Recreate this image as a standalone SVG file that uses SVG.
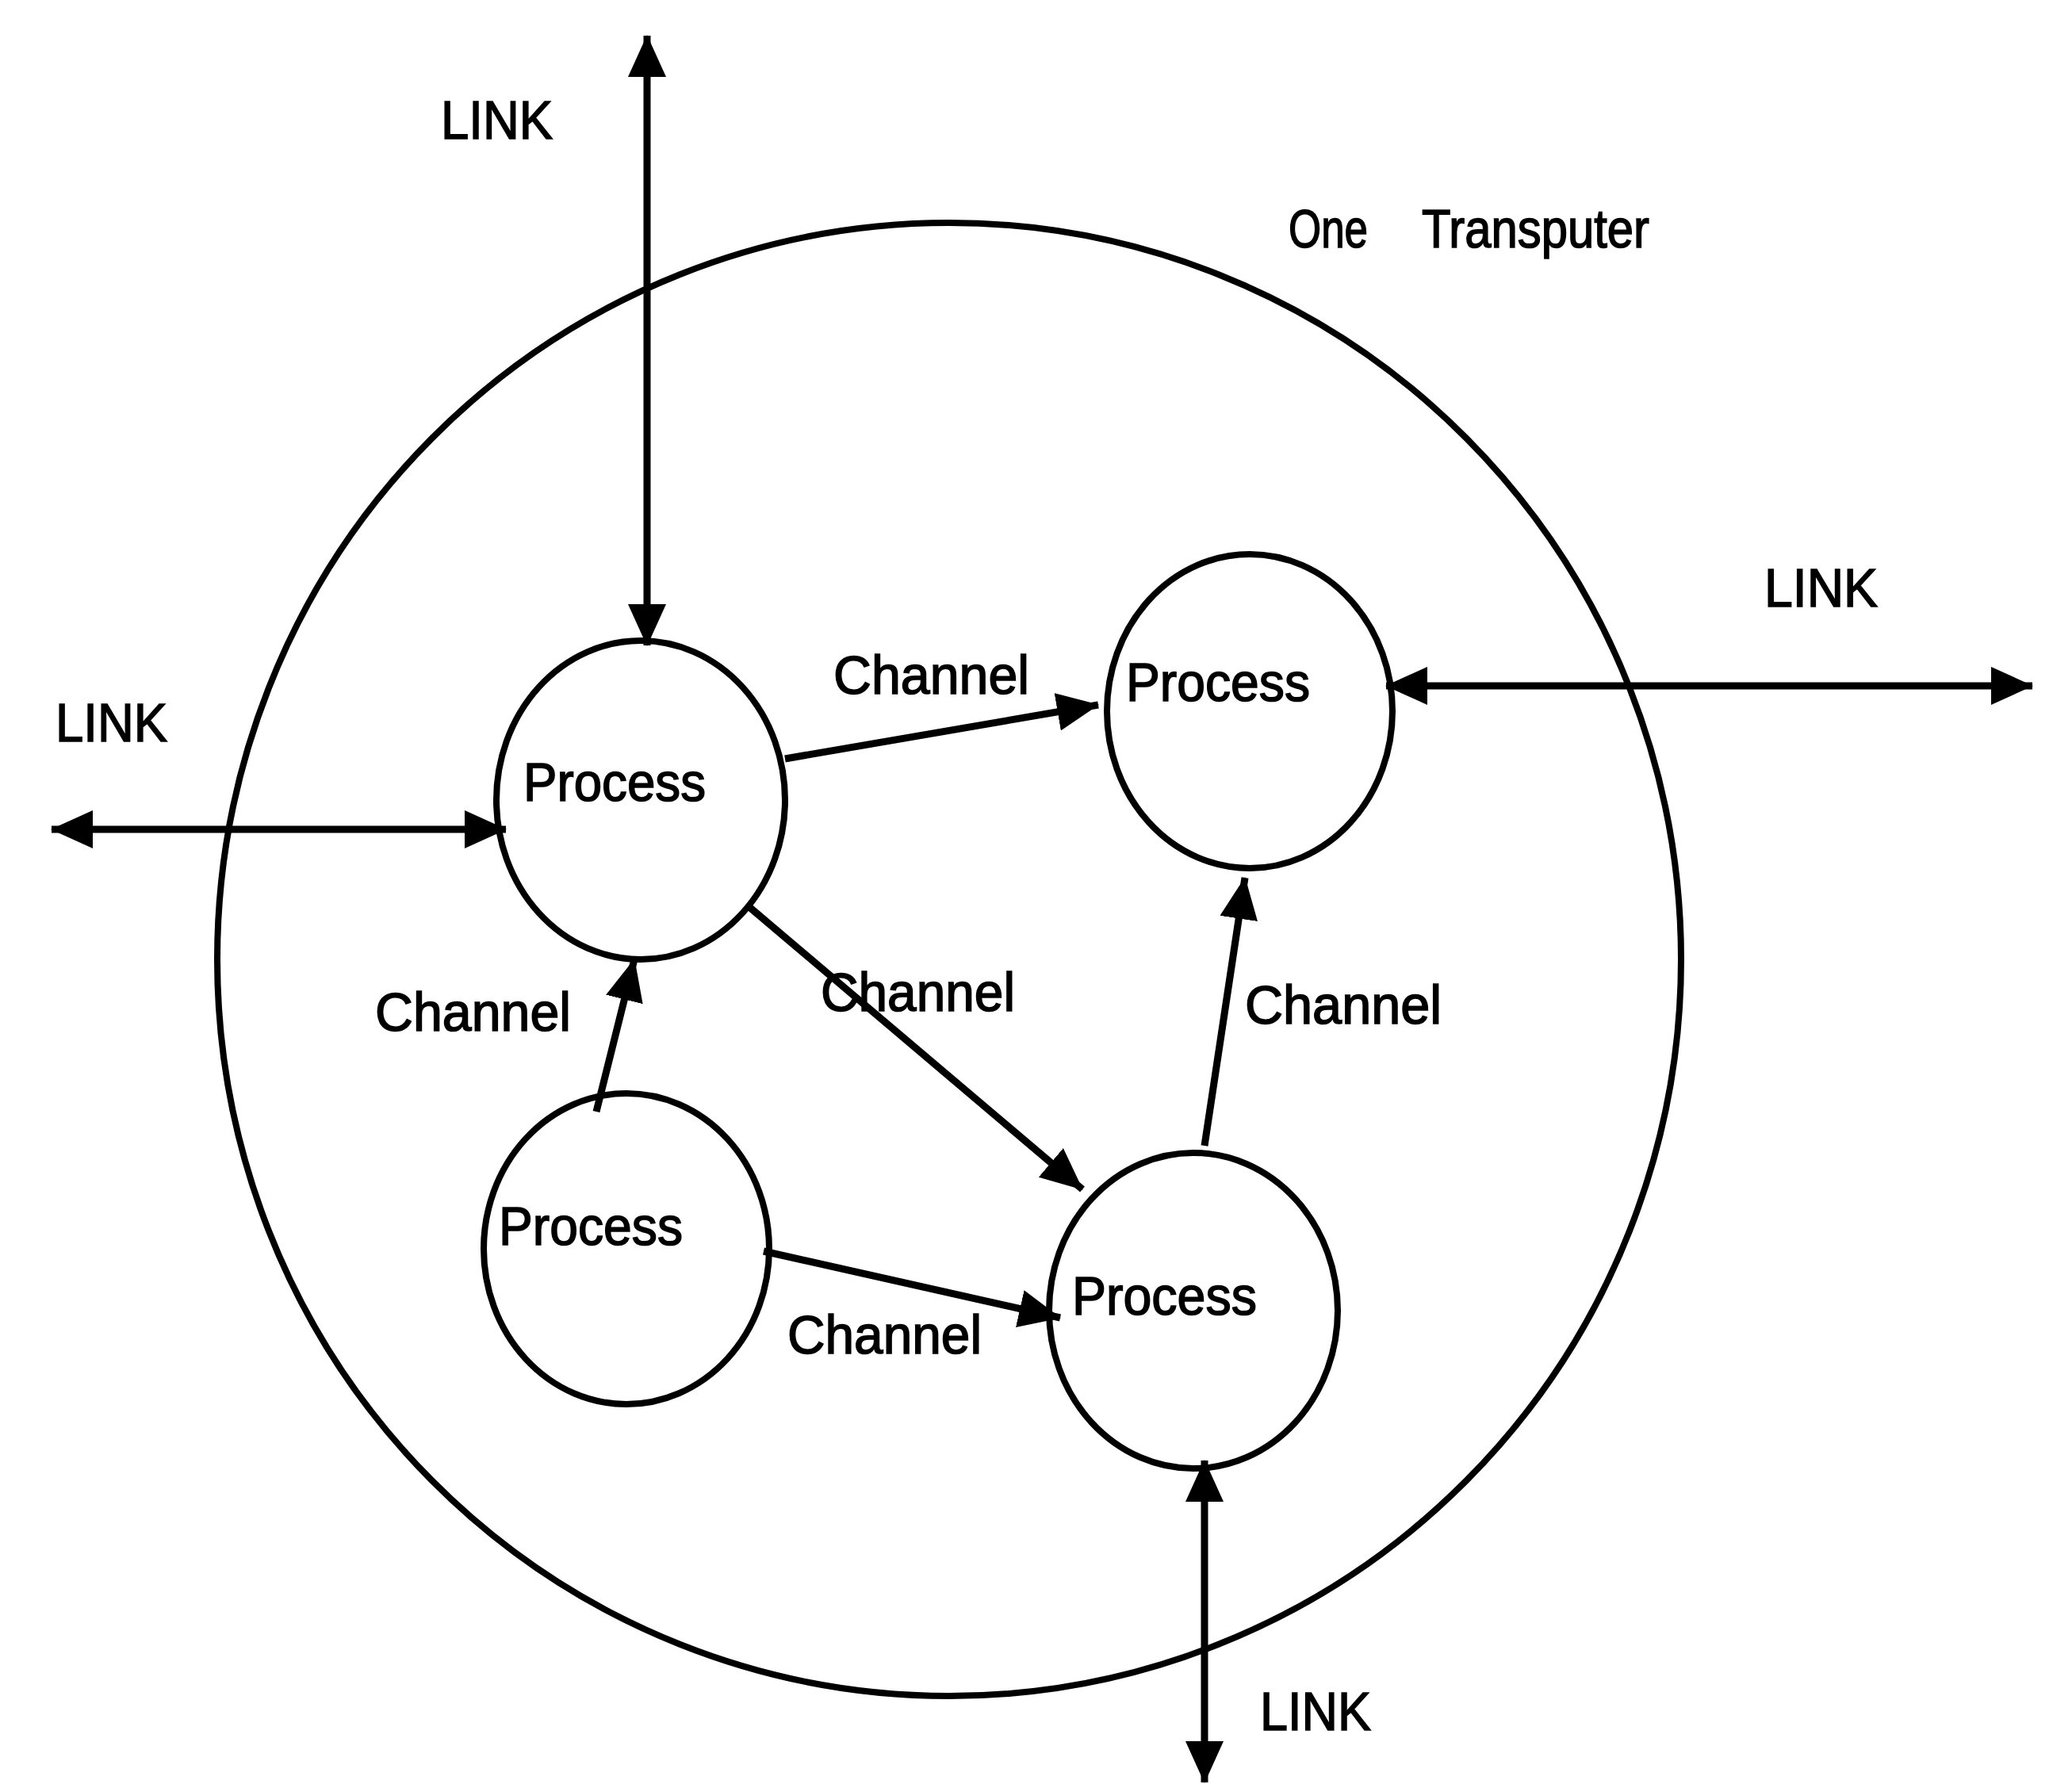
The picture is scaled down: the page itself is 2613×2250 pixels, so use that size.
<svg xmlns="http://www.w3.org/2000/svg" width="2613" height="2250" viewBox="0 0 2613 2250">
<style>
.ring{fill:none;stroke:#000;stroke-width:8}
.conn{fill:none;stroke:#000;stroke-width:9}
.lbl{font-family:"Liberation Sans",Arial,sans-serif;font-size:68px;fill:#000;stroke:#000;stroke-width:1.6}
</style>
<defs>
<marker id="ah" markerUnits="userSpaceOnUse" markerWidth="54" markerHeight="48" refX="52" refY="24" orient="auto-start-reverse" viewBox="0 0 54 48">
<path d="M0,0 L53,24 L0,48 z" fill="#000"/>
</marker>
</defs>
<rect width="2613" height="2250" fill="#fff"/>
<g id="transputer">
<ellipse class="ring" cx="1197" cy="1210" rx="923" ry="929"/>
<text class="lbl" y="312"><tspan x="1625" textLength="100" lengthAdjust="spacingAndGlyphs">One</tspan><tspan x="1793" textLength="287" lengthAdjust="spacingAndGlyphs">Transputer</tspan></text>
</g>
<g id="process1">
<ellipse class="ring" cx="808" cy="1009" rx="182" ry="201"/>
<text class="lbl" x="660" y="1010" textLength="230" lengthAdjust="spacingAndGlyphs">Process</text>
</g>
<g id="process2">
<ellipse class="ring" cx="1576" cy="897" rx="180" ry="198"/>
<text class="lbl" x="1420" y="884" textLength="232" lengthAdjust="spacingAndGlyphs">Process</text>
</g>
<g id="process3">
<ellipse class="ring" cx="790" cy="1575" rx="180" ry="196"/>
<text class="lbl" x="629" y="1570" textLength="232" lengthAdjust="spacingAndGlyphs">Process</text>
</g>
<g id="process4">
<ellipse class="ring" cx="1505" cy="1653" rx="182" ry="199"/>
<text class="lbl" x="1352" y="1658" textLength="233" lengthAdjust="spacingAndGlyphs">Process</text>
</g>
<g id="connectors">
<line class="conn" x1="816" y1="45" x2="816" y2="814" marker-start="url(#ah)" marker-end="url(#ah)"/>
<line class="conn" x1="65" y1="1046" x2="638" y2="1046" marker-start="url(#ah)" marker-end="url(#ah)"/>
<line class="conn" x1="1748" y1="865" x2="2563" y2="865" marker-start="url(#ah)" marker-end="url(#ah)"/>
<line class="conn" x1="1519" y1="1842" x2="1519" y2="2248" marker-start="url(#ah)" marker-end="url(#ah)"/>
<line class="conn" x1="990" y1="957" x2="1385" y2="889" marker-end="url(#ah)"/>
<line class="conn" x1="945" y1="1144" x2="1365" y2="1500" marker-end="url(#ah)"/>
<line class="conn" x1="752" y1="1402" x2="800" y2="1210" marker-end="url(#ah)"/>
<line class="conn" x1="963" y1="1578" x2="1337" y2="1662" marker-end="url(#ah)"/>
<line class="conn" x1="1519" y1="1445" x2="1570" y2="1107" marker-end="url(#ah)"/>
<text class="lbl" x="556" y="175" textLength="141" lengthAdjust="spacingAndGlyphs">LINK</text>
<text class="lbl" x="70" y="935" textLength="141" lengthAdjust="spacingAndGlyphs">LINK</text>
<text class="lbl" x="2225" y="765" textLength="143" lengthAdjust="spacingAndGlyphs">LINK</text>
<text class="lbl" x="1589" y="2182" textLength="140" lengthAdjust="spacingAndGlyphs">LINK</text>
<text class="lbl" x="1051" y="875" textLength="247" lengthAdjust="spacingAndGlyphs">Channel</text>
<text class="lbl" x="473" y="1300" textLength="247" lengthAdjust="spacingAndGlyphs">Channel</text>
<text class="lbl" x="1035" y="1275" textLength="245" lengthAdjust="spacingAndGlyphs">Channel</text>
<text class="lbl" x="1570" y="1291" textLength="248" lengthAdjust="spacingAndGlyphs">Channel</text>
<text class="lbl" x="993" y="1707" textLength="245" lengthAdjust="spacingAndGlyphs">Channel</text>
</g>
</svg>
